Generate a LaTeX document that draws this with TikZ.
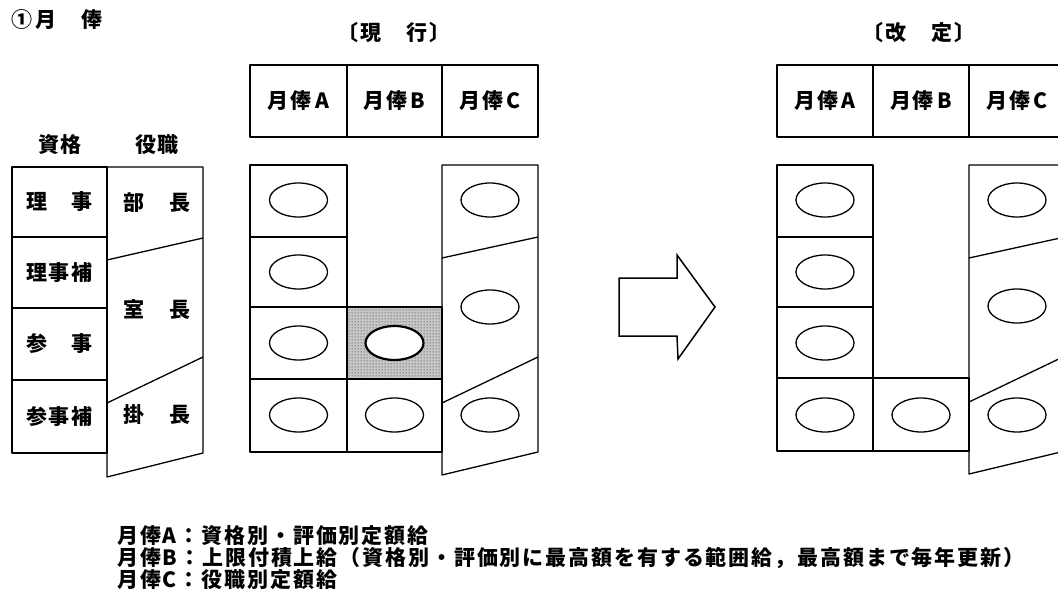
\documentclass[tikz,border=0pt]{standalone}
\usepackage{fontspec}
\setmainfont{Noto Sans CJK JP}[LetterSpace=9]
\usetikzlibrary{shapes.geometric,patterns.meta}
\tikzdeclarepattern{
  name=bigdots,
  type=uncolored,
  bounding box={(0pt,0pt) and (3pt,3pt)},
  tile size={(3pt,3pt)},
  code={\fill (1.5pt,1.5pt) circle (0.72pt);}
}
\begin{document}
\begin{tikzpicture}[x=1pt,y=-1pt,
  ln/.style={line width=1.3pt, line join=round},
  txt/.style={font=\fontsize{21}{23}\selectfont\bfseries, inner sep=0pt},
  cell/.style={draw, ln, inner sep=0pt, outer sep=0pt, font=\fontsize{21}{23}\selectfont\bfseries},
  ov/.style={draw, ellipse, line width=1.3pt, minimum width=58pt, minimum height=34pt, inner sep=0pt},
  ovthick/.style={ov, line width=2.2pt},
  shade/.style={fill=black!22, postaction={pattern=bigdots, pattern color=black!70}}]
\useasboundingbox (0,0) rectangle (1058,605);

% title
\node[txt, anchor=west] (title) at (11,20) {①\,月　俸};
\node[txt] (genko) at (394,33) {〔現　行〕};
\node[txt] (kaitei) at (919,33) {〔改　定〕};

% ---------- left table ----------
\node[txt] (hq) at (60,145) {資格};
\node[txt] (hy) at (157,145) {役職};
\node[cell, minimum width=95pt, minimum height=70pt] (q1) at (59.5,202) {理　事};
\node[cell, minimum width=95pt, minimum height=71pt] (q2) at (59.5,272.5) {理事補};
\node[cell, minimum width=95pt, minimum height=72pt] (q3) at (59.5,344) {参　事};
\node[cell, minimum width=95pt, minimum height=73pt] (q4) at (59.5,416.5) {参事補};
\draw[ln] (107,167) -- (203,167) -- (203,453) -- (107,477) -- cycle;
\draw[ln] (107,260) -- (203,238);
\draw[ln] (107,403) -- (203,357);
\node[txt] (y1) at (157,203) {部　長};
\node[txt] (y2) at (157,310) {室　長};
\node[txt] (y3) at (157,415) {掛　長};

% ---------- current (middle) ----------
\node[cell, minimum width=97pt, minimum height=72pt] (mA) at (298.5,101) {月俸\,A};
\node[cell, minimum width=95pt, minimum height=72pt] (mB) at (394.5,101) {月俸\,B};
\node[cell, minimum width=96pt, minimum height=72pt] (mC) at (490,101) {月俸\,C};

\node[cell, minimum width=97pt, minimum height=72pt] (ma1) at (298.5,201) {};
\node[cell, minimum width=97pt, minimum height=70pt] (ma2) at (298.5,272) {};
\node[cell, minimum width=97pt, minimum height=72pt] (ma3) at (298.5,343) {};
\node[cell, minimum width=97pt, minimum height=73pt] (ma4) at (298.5,415.5) {};
\node[cell, shade, line width=2pt, minimum width=95pt, minimum height=72pt] (mb3) at (394.5,343) {};
\node[cell, minimum width=95pt, minimum height=73pt] (mb4) at (394.5,415.5) {};
\draw[ln] (442,165) -- (538,165) -- (538,452) -- (442,475) -- cycle;
\draw[ln] (442,258) -- (538,237);
\draw[ln] (442,403) -- (538,357);

\node[ov] (ea1) at (298.5,200) {};
\node[ov] (ea2) at (298.5,272) {};
\node[ov] (ea3) at (298.5,343) {};
\node[ov] (ea4) at (298.5,415) {};
\node[ovthick, fill=white] (eb3) at (394.5,343) {};
\node[ov] (eb4) at (394.5,415) {};
\node[ov] (ec1) at (490,200) {};
\node[ov] (ec2) at (490,307) {};
\node[ov] (ec3) at (490,415) {};

% ---------- arrow ----------
\draw[line width=1.5pt, line join=miter] (619,278) -- (677,278) -- (677,255) -- (715,307) -- (678,359) -- (677,336) -- (619,336) -- cycle;

% ---------- revised (right) ----------
\node[cell, minimum width=96pt, minimum height=72pt] (rA) at (825,101) {月俸\,A};
\node[cell, minimum width=96pt, minimum height=72pt] (rB) at (921,101) {月俸\,B};
\node[cell, minimum width=96pt, minimum height=72pt] (rC) at (1017,101) {月俸\,C};

\node[cell, minimum width=96pt, minimum height=72pt] (ra1) at (825,201) {};
\node[cell, minimum width=96pt, minimum height=70pt] (ra2) at (825,272) {};
\node[cell, minimum width=96pt, minimum height=71pt] (ra3) at (825,342.5) {};
\node[cell, minimum width=96pt, minimum height=73pt] (ra4) at (825,414.5) {};
\node[cell, minimum width=96pt, minimum height=73pt] (rb4) at (921,414.5) {};
\draw[ln] (969,165) -- (1065,165) -- (1065,451) -- (969,474) -- cycle;
\draw[ln] (969,258) -- (1065,237);
\draw[ln] (969,402) -- (1065,356);

\node[ov] (fa1) at (825,200) {};
\node[ov] (fa2) at (825,272) {};
\node[ov] (fa3) at (825,343) {};
\node[ov] (fa4) at (825,415) {};
\node[ov] (fb4) at (921,415) {};
\node[ov] (fc1) at (1017,200) {};
\node[ov] (fc2) at (1017,306) {};
\node[ov] (fc3) at (1017,415) {};

% ---------- notes ----------
\node[txt, anchor=west] (nA) at (117,536) {月俸A：資格別・評価別定額給};
\node[txt, anchor=west] (nB) at (117,558) {月俸B：上限付積上給（資格別・評価別に最高額を有する範囲給，最高額まで毎年更新）};
\node[txt, anchor=west] (nC) at (117,580) {月俸C：役職別定額給};
\end{tikzpicture}
\end{document}
